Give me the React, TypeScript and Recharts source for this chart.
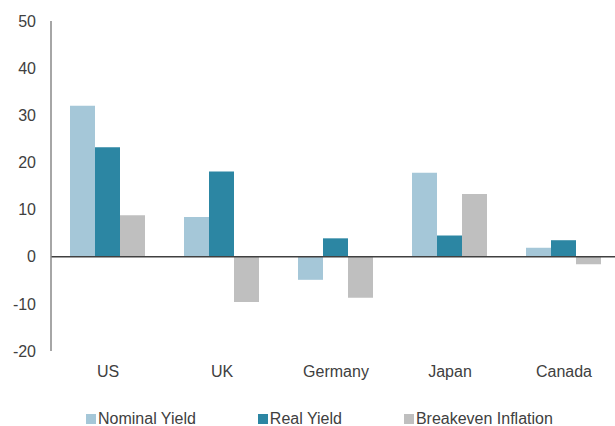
import React from "react";
import { BarChart, Bar, XAxis, YAxis, ReferenceLine } from "recharts";

const categories = ["US", "UK", "Germany", "Japan", "Canada"];
const nominalYield = [32, 8.4, -4.9, 17.8, 1.9];
const realYield = [23.2, 18.1, 3.9, 4.5, 3.5];
const breakevenInflation = [8.8, -9.6, -8.7, 13.3, -1.6];
const yTicks = [-20, -10, 0, 10, 20, 30, 40, 50];

const seriesNames = ["Nominal Yield", "Real Yield", "Breakeven Inflation"];
const colors = ["#A5C7D8", "#2C86A3", "#BFBFBF"];

const data = categories.map((c, i) => ({
  name: c,
  nominal: nominalYield[i],
  real: realYield[i],
  breakeven: breakevenInflation[i],
}));

const FONT = "'Liberation Sans', Arial, sans-serif";
const TEXT = "#404040";

export default function App() {
  return (
    <div
      style={{
        position: "absolute",
        left: 0,
        top: 0,
        width: 615,
        height: 426,
        overflow: "hidden",
        background: "#fff",
        fontFamily: FONT,
      }}
    >
      <BarChart
        width={621}
        height={426}
        data={data}
        margin={{ top: 21, right: 0, bottom: 45, left: 0 }}
        barCategoryGap={19}
        barGap={0}
      >
        <XAxis
          dataKey="name"
          height={30}
          axisLine={false}
          tickLine={false}
          tickSize={0}
          tickMargin={15}
          tick={{ fill: TEXT, fontSize: 16, fontFamily: FONT }}
          interval={0}
        />
        <YAxis
          domain={[-20, 50]}
          ticks={yTicks}
          width={51}
          tickLine={false}
          tickSize={0}
          tickMargin={15}
          axisLine={{ stroke: "#888888", strokeWidth: 1.5 }}
          tick={{ fill: TEXT, fontSize: 16, fontFamily: FONT }}
          interval={0}
        />
        <Bar dataKey="nominal" name={seriesNames[0]} fill={colors[0]} isAnimationActive={false} />
        <Bar dataKey="real" name={seriesNames[1]} fill={colors[1]} isAnimationActive={false} />
        <Bar dataKey="breakeven" name={seriesNames[2]} fill={colors[2]} isAnimationActive={false} />
        <ReferenceLine y={0} stroke="#404040" strokeWidth={1.5} />
      </BarChart>
      <div
        style={{
          position: "absolute",
          left: 86,
          top: 410,
          display: "flex",
          alignItems: "center",
          gap: 62,
          fontSize: 16,
          color: TEXT,
          lineHeight: "18px",
          whiteSpace: "nowrap",
        }}
      >
        {seriesNames.map((n, i) => (
          <div key={n} style={{ display: "flex", alignItems: "center" }}>
            <span
              style={{
                display: "inline-block",
                width: 10,
                height: 10,
                background: colors[i],
                marginRight: 2,
              }}
            />
            <span>{n}</span>
          </div>
        ))}
      </div>
    </div>
  );
}
